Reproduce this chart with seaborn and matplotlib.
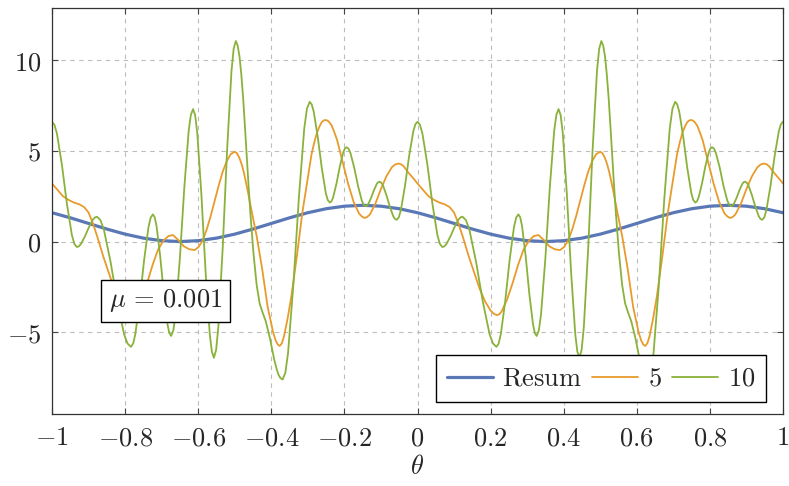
import numpy as np
import pandas as pd
import matplotlib
matplotlib.use("Agg")
import matplotlib.pyplot as plt
import seaborn as sns

# ---------------- data ----------------
theta_resum = [-1.00, -0.95, -0.90, -0.85, -0.80, -0.75, -0.70, -0.65, -0.60, -0.55,
               -0.50, -0.45, -0.40, -0.35, -0.30, -0.25, -0.20, -0.15, -0.10, -0.05,
               0.00, 0.05, 0.10, 0.15, 0.20, 0.25, 0.30, 0.35, 0.40, 0.45,
               0.50, 0.55, 0.60, 0.65, 0.70, 0.75, 0.80, 0.85, 0.90, 0.95, 1.00]
y_resum = [1.59, 1.31, 1.00, 0.69, 0.41, 0.19, 0.05, 0.00, 0.05, 0.19,
           0.41, 0.69, 1.00, 1.31, 1.59, 1.81, 1.95, 2.00, 1.95, 1.81,
           1.59, 1.31, 1.00, 0.69, 0.41, 0.19, 0.05, 0.00, 0.05, 0.19,
           0.41, 0.69, 1.00, 1.31, 1.59, 1.81, 1.95, 2.00, 1.95, 1.81, 1.59]

# (theta, value) readings of the "5" curve
curve_5 = [
    (-1.000, 3.20), (-0.985, 2.85), (-0.970, 2.50), (-0.955, 2.30), (-0.940, 2.15),
    (-0.925, 2.05), (-0.912, 1.90), (-0.900, 1.60), (-0.888, 1.00), (-0.875, 0.20),
    (-0.860, -0.80), (-0.845, -1.70), (-0.830, -2.60), (-0.815, -3.30), (-0.800, -3.80),
    (-0.790, -4.00), (-0.782, -4.05), (-0.776, -4.00), (-0.770, -3.85), (-0.755, -3.20),
    (-0.740, -2.30), (-0.725, -1.30), (-0.710, -0.45), (-0.695, 0.05), (-0.682, 0.30),
    (-0.669, 0.36), (-0.655, 0.10), (-0.640, -0.25), (-0.625, -0.42), (-0.610, -0.47),
    (-0.599, -0.30), (-0.588, 0.05), (-0.577, 0.65), (-0.566, 1.40), (-0.555, 2.25),
    (-0.544, 3.08), (-0.533, 3.85), (-0.522, 4.43), (-0.511, 4.82), (-0.500, 4.95),
    (-0.494, 4.87), (-0.487, 4.60), (-0.481, 4.25), (-0.475, 3.80), (-0.465, 2.85),
    (-0.455, 1.80), (-0.440, 0.30), (-0.425, -1.50), (-0.410, -3.60), (-0.395, -5.00),
    (-0.388, -5.45), (-0.382, -5.68), (-0.377, -5.75), (-0.371, -5.60), (-0.365, -5.20),
    (-0.355, -4.20), (-0.345, -3.00), (-0.330, -0.80), (-0.315, 1.60), (-0.304, 3.00),
    (-0.290, 4.80), (-0.282, 5.50), (-0.275, 6.00), (-0.268, 6.35), (-0.262, 6.58),
    (-0.256, 6.68), (-0.250, 6.70), (-0.243, 6.62), (-0.235, 6.40), (-0.228, 6.05),
    (-0.220, 5.60), (-0.205, 4.40), (-0.190, 3.20), (-0.175, 2.20), (-0.160, 1.55),
    (-0.152, 1.38), (-0.145, 1.30), (-0.138, 1.35), (-0.130, 1.50), (-0.115, 2.10),
    (-0.100, 2.90), (-0.085, 3.60), (-0.070, 4.10), (-0.061, 4.25), (-0.052, 4.30),
    (-0.045, 4.26), (-0.038, 4.15), (-0.025, 3.80), (-0.012, 3.50), (0.000, 3.20),
    (0.015, 2.85), (0.030, 2.50), (0.045, 2.30), (0.060, 2.15), (0.075, 2.05),
    (0.088, 1.90), (0.100, 1.60), (0.112, 1.00), (0.125, 0.20), (0.140, -0.80),
    (0.155, -1.70), (0.170, -2.60), (0.185, -3.30), (0.200, -3.80), (0.210, -4.00),
    (0.218, -4.05), (0.224, -4.00), (0.230, -3.85), (0.245, -3.20), (0.260, -2.30),
    (0.275, -1.30), (0.290, -0.45), (0.305, 0.05), (0.318, 0.30), (0.331, 0.36),
    (0.345, 0.10), (0.360, -0.25), (0.375, -0.42), (0.390, -0.47), (0.401, -0.30),
    (0.412, 0.05), (0.423, 0.65), (0.434, 1.40), (0.445, 2.25), (0.456, 3.08),
    (0.467, 3.85), (0.478, 4.43), (0.489, 4.82), (0.500, 4.95), (0.506, 4.87),
    (0.513, 4.60), (0.519, 4.25), (0.525, 3.80), (0.535, 2.85), (0.545, 1.80),
    (0.560, 0.30), (0.575, -1.50), (0.590, -3.60), (0.605, -5.00), (0.612, -5.45),
    (0.618, -5.68), (0.623, -5.75), (0.629, -5.60), (0.635, -5.20), (0.645, -4.20),
    (0.655, -3.00), (0.670, -0.80), (0.685, 1.60), (0.696, 3.00), (0.710, 4.80),
    (0.718, 5.50), (0.725, 6.00), (0.732, 6.35), (0.738, 6.58), (0.744, 6.68),
    (0.750, 6.70), (0.757, 6.62), (0.765, 6.40), (0.772, 6.05), (0.780, 5.60),
    (0.795, 4.40), (0.810, 3.20), (0.825, 2.20), (0.840, 1.55), (0.848, 1.38),
    (0.855, 1.30), (0.862, 1.35), (0.870, 1.50), (0.885, 2.10), (0.900, 2.90),
    (0.915, 3.60), (0.930, 4.10), (0.939, 4.25), (0.948, 4.30), (0.955, 4.26),
    (0.962, 4.15), (0.975, 3.80), (0.988, 3.50), (1.000, 3.20),
]

# (theta, value) readings of the "10" curve
curve_10 = [
    (-1.0000, 6.60), (-0.9932, 6.43), (-0.9864, 5.94), (-0.9728, 4.22), (-0.9660, 3.15),
    (-0.9592, 2.08), (-0.9456, 0.36), (-0.9388, -0.13), (-0.9320, -0.30), (-0.9265, -0.26),
    (-0.9210, -0.14), (-0.9100, 0.28), (-0.9045, 0.54), (-0.8990, 0.79), (-0.8880, 1.21),
    (-0.8825, 1.33), (-0.8770, 1.37), (-0.8677, 1.19), (-0.8584, 0.69), (-0.8398, -1.11),
    (-0.8305, -2.22), (-0.8212, -3.32), (-0.8026, -5.12), (-0.7933, -5.62), (-0.7840, -5.80),
    (-0.7780, -5.62), (-0.7720, -5.10), (-0.7600, -3.28), (-0.7540, -2.15), (-0.7480, -1.02),
    (-0.7360, 0.80), (-0.7300, 1.32), (-0.7240, 1.50), (-0.7190, 1.34), (-0.7140, 0.86),
    (-0.7040, -0.81), (-0.6990, -1.85), (-0.6940, -2.89), (-0.6840, -4.56), (-0.6790, -5.04),
    (-0.6740, -5.20), (-0.6680, -4.89), (-0.6620, -4.01), (-0.6500, -0.88), (-0.6440, 1.05),
    (-0.6380, 2.98), (-0.6260, 6.11), (-0.6200, 6.99), (-0.6140, 7.30), (-0.6083, 6.96),
    (-0.6026, 5.99), (-0.5912, 2.57), (-0.5855, 0.45), (-0.5798, -1.67), (-0.5684, -5.09),
    (-0.5627, -6.06), (-0.5570, -6.40), (-0.5510, -5.97), (-0.5450, -4.73), (-0.5330, -0.37),
    (-0.5270, 2.33), (-0.5210, 5.02), (-0.5090, 9.38), (-0.5030, 10.62), (-0.4970, 11.05),
    (-0.4920, 10.80), (-0.4870, 10.20), (-0.4820, 9.20), (-0.4770, 7.90), (-0.4720, 6.30),
    (-0.4670, 4.60), (-0.4620, 3.00), (-0.4570, 1.50), (-0.4490, -0.60), (-0.4400, -2.40),
    (-0.4320, -3.40), (-0.4240, -3.90), (-0.4150, -4.40), (-0.4040, -5.30), (-0.3920, -6.50),
    (-0.3850, -7.05), (-0.3800, -7.35), (-0.3750, -7.52), (-0.3690, -7.60), (-0.3616, -7.23),
    (-0.3542, -6.14), (-0.3394, -2.31), (-0.3320, 0.05), (-0.3246, 2.41), (-0.3098, 6.24),
    (-0.3024, 7.33), (-0.2950, 7.70), (-0.2895, 7.56), (-0.2840, 7.17), (-0.2730, 5.78),
    (-0.2675, 4.93), (-0.2620, 4.07), (-0.2510, 2.68), (-0.2455, 2.29), (-0.2400, 2.15),
    (-0.2354, 2.22), (-0.2308, 2.44), (-0.2216, 3.20), (-0.2170, 3.68), (-0.2124, 4.15),
    (-0.2032, 4.91), (-0.1986, 5.13), (-0.1940, 5.20), (-0.1888, 5.12), (-0.1836, 4.89),
    (-0.1732, 4.08), (-0.1680, 3.58), (-0.1628, 3.07), (-0.1524, 2.26), (-0.1472, 2.03),
    (-0.1420, 1.95), (-0.1382, 1.98), (-0.1344, 2.08), (-0.1268, 2.42), (-0.1230, 2.63),
    (-0.1192, 2.83), (-0.1116, 3.17), (-0.1078, 3.27), (-0.1040, 3.30), (-0.0993, 3.25),
    (-0.0946, 3.10), (-0.0852, 2.57), (-0.0805, 2.25), (-0.0758, 1.93), (-0.0664, 1.40),
    (-0.0617, 1.25), (-0.0570, 1.20), (-0.0513, 1.33), (-0.0456, 1.72), (-0.0342, 3.07),
    (-0.0285, 3.90), (-0.0228, 4.73), (-0.0114, 6.08), (-0.0057, 6.47), (0.0000, 6.60),
    (0.0068, 6.43), (0.0136, 5.94), (0.0272, 4.22), (0.0340, 3.15), (0.0408, 2.08),
    (0.0544, 0.36), (0.0612, -0.13), (0.0680, -0.30), (0.0735, -0.26), (0.0790, -0.14),
    (0.0900, 0.28), (0.0955, 0.54), (0.1010, 0.79), (0.1120, 1.21), (0.1175, 1.33),
    (0.1230, 1.37), (0.1323, 1.19), (0.1416, 0.69), (0.1602, -1.11), (0.1695, -2.22),
    (0.1788, -3.32), (0.1974, -5.12), (0.2067, -5.62), (0.2160, -5.80), (0.2220, -5.62),
    (0.2280, -5.10), (0.2400, -3.28), (0.2460, -2.15), (0.2520, -1.02), (0.2640, 0.80),
    (0.2700, 1.32), (0.2760, 1.50), (0.2810, 1.34), (0.2860, 0.86), (0.2960, -0.81),
    (0.3010, -1.85), (0.3060, -2.89), (0.3160, -4.56), (0.3210, -5.04), (0.3260, -5.20),
    (0.3320, -4.89), (0.3380, -4.01), (0.3500, -0.88), (0.3560, 1.05), (0.3620, 2.98),
    (0.3740, 6.11), (0.3800, 6.99), (0.3860, 7.30), (0.3917, 6.96), (0.3974, 5.99),
    (0.4088, 2.57), (0.4145, 0.45), (0.4202, -1.67), (0.4316, -5.09), (0.4373, -6.06),
    (0.4430, -6.40), (0.4490, -5.97), (0.4550, -4.73), (0.4670, -0.37), (0.4730, 2.33),
    (0.4790, 5.02), (0.4910, 9.38), (0.4970, 10.62), (0.5030, 11.05), (0.5080, 10.80),
    (0.5130, 10.20), (0.5180, 9.20), (0.5230, 7.90), (0.5280, 6.30), (0.5330, 4.60),
    (0.5380, 3.00), (0.5430, 1.50), (0.5510, -0.60), (0.5600, -2.40), (0.5680, -3.40),
    (0.5760, -3.90), (0.5850, -4.40), (0.5960, -5.30), (0.6080, -6.50), (0.6150, -7.05),
    (0.6200, -7.35), (0.6250, -7.52), (0.6310, -7.60), (0.6384, -7.23), (0.6458, -6.14),
    (0.6606, -2.31), (0.6680, 0.05), (0.6754, 2.41), (0.6902, 6.24), (0.6976, 7.33),
    (0.7050, 7.70), (0.7105, 7.56), (0.7160, 7.17), (0.7270, 5.78), (0.7325, 4.93),
    (0.7380, 4.07), (0.7490, 2.68), (0.7545, 2.29), (0.7600, 2.15), (0.7646, 2.22),
    (0.7692, 2.44), (0.7784, 3.20), (0.7830, 3.68), (0.7876, 4.15), (0.7968, 4.91),
    (0.8014, 5.13), (0.8060, 5.20), (0.8112, 5.12), (0.8164, 4.89), (0.8268, 4.08),
    (0.8320, 3.58), (0.8372, 3.07), (0.8476, 2.26), (0.8528, 2.03), (0.8580, 1.95),
    (0.8618, 1.98), (0.8656, 2.08), (0.8732, 2.42), (0.8770, 2.63), (0.8808, 2.83),
    (0.8884, 3.17), (0.8922, 3.27), (0.8960, 3.30), (0.9007, 3.25), (0.9054, 3.10),
    (0.9148, 2.57), (0.9195, 2.25), (0.9242, 1.93), (0.9336, 1.40), (0.9383, 1.25),
    (0.9430, 1.20), (0.9487, 1.33), (0.9544, 1.72), (0.9658, 3.07), (0.9715, 3.90),
    (0.9772, 4.73), (0.9886, 6.08), (0.9943, 6.47), (1.0000, 6.60),
]

theta_5 = [p[0] for p in curve_5]
y_5 = [p[1] for p in curve_5]
theta_10 = [p[0] for p in curve_10]
y_10 = [p[1] for p in curve_10]

series_names = ["Resum", "5", "10"]
legend_labels = [r"$\mathrm{Resum}$", r"$5$", r"$10$"]
xticks = [-1, -0.8, -0.6, -0.4, -0.2, 0, 0.2, 0.4, 0.6, 0.8, 1]
xtick_labels = [r"$-1$", r"$-0.8$", r"$-0.6$", r"$-0.4$", r"$-0.2$", r"$0$",
                r"$0.2$", r"$0.4$", r"$0.6$", r"$0.8$", r"$1$"]
yticks = [-5, 0, 5, 10]
ytick_labels = [r"$-5$", r"$0$", r"$5$", r"$10$"]
annotation = r"$\mu\,=\,0.001$"

# ---------------- style ----------------
sns.set_theme(style="white")
plt.rcParams.update({
    "mathtext.fontset": "cm",
    "font.family": ["DejaVu Serif"],
    "axes.edgecolor": "#333333",
    "axes.linewidth": 0.9,
    "lines.solid_joinstyle": "round",
})

colors = {"Resum": "#5a78b6", "5": "#e89b2b", "10": "#8ab23a"}
widths = {"Resum": 2.3, "5": 1.3, "10": 1.3}

df = pd.concat([
    pd.DataFrame({"theta": theta_resum, "value": y_resum, "series": "Resum"}),
    pd.DataFrame({"theta": theta_5, "value": y_5, "series": "5"}),
    pd.DataFrame({"theta": theta_10, "value": y_10, "series": "10"}),
], ignore_index=True)

fig = plt.figure(figsize=(7.89, 4.86), dpi=100)
ax = fig.add_axes([52 / 789, 1 - 414 / 486, 731 / 789, 406 / 486])

for name, lab in zip(series_names, legend_labels):
    sub = df[df["series"] == name]
    sns.lineplot(data=sub, x="theta", y="value", ax=ax, color=colors[name],
                 linewidth=widths[name], label=lab, estimator=None, sort=True)

ax.set_xlim(-1, 1)
ax.set_ylim(-9.5, 12.87)
ax.set_xticks(xticks)
ax.set_xticklabels(xtick_labels)
ax.set_yticks(yticks)
ax.set_yticklabels(ytick_labels)
ax.tick_params(direction="in", top=True, right=True, bottom=True, left=True,
               length=4, width=0.8, color="#444444", labelsize=19, pad=8)
ax.grid(True, linestyle=(0, (4, 4)), color="#bdbdbd", linewidth=0.8)
ax.set_axisbelow(True)
ax.set_xlabel(r"$\theta$", fontsize=19, labelpad=3)
ax.set_ylabel("")

ax.text(-0.69, -3.27, annotation, ha="center", va="center", fontsize=19,
        bbox=dict(boxstyle="square,pad=0.3", fc="white", ec="black", lw=1.0),
        zorder=5)

leg = ax.legend(loc="lower right", bbox_to_anchor=(0.9767, 0.0296), borderaxespad=0,
                ncol=3, fontsize=19, handlelength=1.75, handletextpad=0.35,
                columnspacing=0.4, borderpad=0.42, fancybox=False, framealpha=1,
                edgecolor="black")
leg.get_frame().set_linewidth(1.0)
leg.set_zorder(6)

fig.savefig("out.png", dpi=100)
